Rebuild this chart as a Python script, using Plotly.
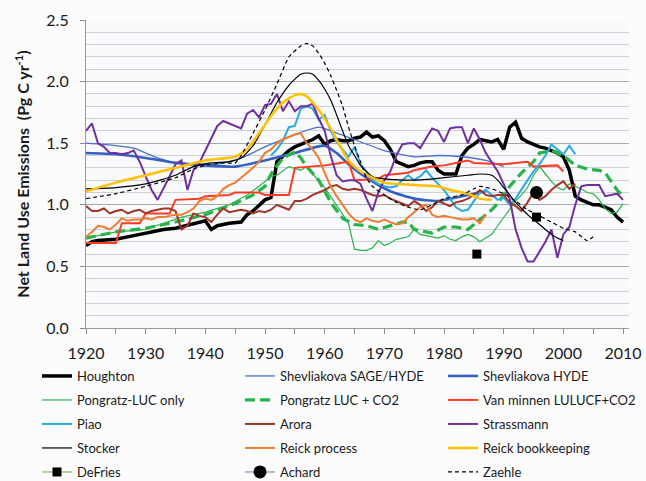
import plotly.graph_objects as go

# ---------------- data ----------------
houghton_years = [1920, 1921, 1922, 1925, 1928, 1930, 1933, 1935, 1938, 1940, 1941, 1942, 1944, 1946, 1947, 1948, 1950, 1951,
                  1952, 1953, 1954, 1955, 1956, 1957, 1958, 1959, 1960, 1961, 1962, 1963, 1964, 1965, 1966, 1967, 1968, 1969,
                  1970, 1971, 1972, 1973, 1974, 1975, 1976, 1977, 1978, 1979, 1980, 1981, 1982, 1983, 1984, 1985, 1986, 1987,
                  1988, 1989, 1990, 1991, 1992, 1993, 1994, 1995, 1996, 1997, 1998, 1999, 2000, 2001, 2002, 2003, 2004, 2005,
                  2006, 2007, 2008, 2009, 2010]
houghton_vals = [0.67, 0.70, 0.71, 0.72, 0.75, 0.77, 0.80, 0.81, 0.85, 0.87, 0.80, 0.83, 0.85, 0.86, 0.92, 0.95, 1.04, 1.06,
                 1.35, 1.40, 1.44, 1.47, 1.49, 1.51, 1.53, 1.56, 1.49, 1.52, 1.53, 1.52, 1.52, 1.54, 1.55, 1.59, 1.55, 1.56,
                 1.52, 1.45, 1.35, 1.33, 1.31, 1.32, 1.34, 1.35, 1.35, 1.28, 1.25, 1.25, 1.25, 1.40, 1.46, 1.49, 1.53, 1.52,
                 1.51, 1.53, 1.45, 1.63, 1.67, 1.54, 1.51, 1.49, 1.47, 1.46, 1.44, 1.42, 1.39, 1.28, 1.07, 1.04, 1.02, 1.00,
                 1.00, 0.98, 0.96, 0.90, 0.86]

shev_sage_years = [1920, 1925, 1928, 1932, 1935, 1942, 1946, 1950, 1955, 1959, 1961, 1965, 1970, 1975, 1979, 1983, 1987, 1990]
shev_sage_vals = [1.50, 1.48, 1.46, 1.38, 1.34, 1.33, 1.38, 1.47, 1.57, 1.63, 1.60, 1.53, 1.44, 1.39, 1.40, 1.39, 1.36, 1.31]

shev_hyde_years = [1920, 1925, 1930, 1935, 1940, 1945, 1950, 1955, 1960, 1962, 1964, 1967, 1971, 1975, 1979, 1983, 1987]
shev_hyde_vals = [1.42, 1.41, 1.38, 1.34, 1.32, 1.31, 1.36, 1.42, 1.48, 1.42, 1.33, 1.22, 1.11, 1.05, 1.03, 1.07, 1.11]

pong_luc_years = [1920, 1922, 1925, 1928, 1930, 1933, 1936, 1940, 1944, 1947, 1949, 1951, 1952, 1954, 1956, 1957, 1958, 1960,
                  1962, 1964, 1965, 1966, 1967, 1968, 1969, 1970, 1971, 1972, 1974, 1975, 1976, 1977, 1978, 1979, 1980, 1981,
                  1982, 1983, 1984, 1985, 1986, 1987, 1988, 1989, 1990, 1991, 1992, 1993, 1994, 1995, 1996, 1997, 1998, 1999,
                  2000, 2001, 2002, 2003, 2004, 2005, 2006, 2007, 2008, 2009, 2010]
pong_luc_vals = [0.73, 0.75, 0.78, 0.79, 0.80, 0.85, 0.90, 0.94, 1.00, 1.08, 1.15, 1.23, 1.24, 1.31, 1.28, 1.31, 1.25, 1.14,
                 1.00, 0.85, 0.64, 0.63, 0.63, 0.65, 0.71, 0.67, 0.69, 0.72, 0.74, 0.80, 0.76, 0.75, 0.74, 0.73, 0.75, 0.72,
                 0.71, 0.74, 0.76, 0.74, 0.70, 0.73, 0.76, 0.83, 0.90, 0.97, 1.03, 1.08, 1.14, 1.24, 1.31, 1.25, 1.19, 1.14,
                 1.12, 1.17, 1.15, 1.13, 1.10, 1.09, 1.04, 0.97, 0.93, 0.94, 1.01]

pong_co2_years = [1920, 1925, 1930, 1935, 1940, 1945, 1948, 1950, 1951, 1952, 1953, 1955, 1956, 1957, 1959, 1961, 1963, 1965,
                  1967, 1969, 1971, 1973, 1974, 1975, 1977, 1978, 1980, 1982, 1984, 1986, 1988, 1989, 1991, 1993, 1995, 1996,
                  1998, 2000, 2002, 2004, 2006, 2007, 2009, 2010]
pong_co2_vals = [0.73, 0.78, 0.81, 0.86, 0.92, 1.01, 1.08, 1.15, 1.25, 1.31, 1.38, 1.43, 1.38, 1.31, 1.20, 1.02, 0.89, 0.84,
                 0.83, 0.80, 0.83, 0.86, 0.86, 0.80, 0.78, 0.77, 0.82, 0.82, 0.80, 0.88, 0.96, 1.01, 1.15, 1.26, 1.35, 1.42,
                 1.44, 1.40, 1.32, 1.29, 1.28, 1.26, 1.12, 1.07]

vanminnen_years = [1920, 1925, 1926, 1929, 1930, 1934, 1935, 1939, 1940, 1944, 1945, 1949, 1950, 1954, 1955, 1960, 1964, 1965,
                   1969, 1970, 1974, 1975, 1978, 1980, 1983, 1984, 1985, 1990, 1994, 1995, 1999, 2000]
vanminnen_vals = [0.69, 0.69, 0.85, 0.85, 0.93, 0.93, 1.04, 1.05, 1.07, 1.08, 1.10, 1.10, 1.08, 1.08, 1.30, 1.32, 1.35, 1.20,
                  1.21, 1.24, 1.26, 1.28, 1.31, 1.32, 1.35, 1.36, 1.34, 1.33, 1.35, 1.31, 1.32, 1.27]

piao_years = list(range(1951, 2003))
piao_vals = [1.40, 1.45, 1.52, 1.63, 1.64, 1.78, 1.80, 1.78, 1.69, 1.73, 1.60, 1.51, 1.45, 1.39, 1.47, 1.33, 1.27, 1.20,
             1.17, 1.15, 1.14, 1.15, 1.20, 1.24, 1.20, 1.23, 1.28, 1.22, 1.17, 1.12, 1.05, 0.98, 0.95, 0.96, 1.03, 1.10,
             1.12, 1.08, 1.04, 1.06, 1.00, 1.05, 1.13, 1.20, 1.27, 1.33, 1.40, 1.49, 1.45, 1.41, 1.48, 1.41]

arora_years = list(range(1920, 2003))
arora_vals = [0.99, 0.95, 0.95, 0.97, 0.93, 0.95, 0.96, 0.93, 0.95, 0.96, 0.93, 0.95, 0.96, 0.97, 0.97, 0.95, 0.80, 0.83,
              0.93, 0.91, 0.90, 0.86, 0.92, 0.97, 0.94, 0.95, 0.96, 0.95, 0.93, 0.95, 0.94, 0.96, 1.00, 0.98, 0.96, 1.03,
              1.03, 1.05, 1.08, 1.10, 1.12, 1.15, 1.16, 1.13, 1.12, 1.13, 1.12, 1.10, 1.08, 1.07, 1.08, 1.05, 1.03, 1.01,
              0.99, 1.03, 1.00, 0.95, 0.98, 1.03, 1.01, 0.99, 1.02, 1.03, 1.05, 1.08, 1.12, 1.08, 1.07, 1.08, 1.08, 1.02,
              0.99, 0.95, 1.02, 1.10, 1.04, 1.07, 1.12, 1.16, 1.19, 1.13, 1.17]

strassmann_years = list(range(1920, 2011))
strassmann_vals = [1.60, 1.66, 1.50, 1.47, 1.42, 1.42, 1.41, 1.42, 1.44, 1.35, 1.23, 1.12, 1.04, 1.13, 1.23, 1.33, 1.36, 1.12,
                   1.28, 1.34, 1.44, 1.55, 1.64, 1.68, 1.66, 1.64, 1.62, 1.74, 1.77, 1.71, 1.81, 1.82, 1.90, 1.76, 1.84, 1.76,
                   1.80, 1.80, 1.82, 1.70, 1.60, 1.40, 1.24, 1.19, 1.20, 1.20, 1.17, 1.05, 0.95, 1.10, 1.20, 1.27, 1.40, 1.49,
                   1.50, 1.50, 1.46, 1.54, 1.62, 1.60, 1.51, 1.62, 1.63, 1.63, 1.50, 1.62, 1.53, 1.42, 1.34, 1.27, 1.17, 1.05,
                   0.80, 0.65, 0.54, 0.54, 0.62, 0.70, 0.80, 0.57, 0.76, 0.82, 1.00, 1.15, 1.16, 1.16, 1.16, 1.07, 1.08, 1.09,
                   1.04]

stocker_years = [1920, 1925, 1930, 1935, 1938, 1941, 1944, 1946, 1948, 1950, 1952, 1954, 1955, 1956, 1957, 1958, 1959, 1960,
                 1961, 1962, 1963, 1964, 1965, 1966, 1967, 1968, 1970, 1975, 1980, 1984, 1986, 1988, 1989, 1990, 1991, 1992,
                 1993, 1994, 1995, 1996, 1997, 1998, 1999, 2000]
stocker_vals = [1.13, 1.14, 1.17, 1.24, 1.31, 1.34, 1.35, 1.38, 1.48, 1.65, 1.83, 1.97, 2.02, 2.06, 2.07, 2.06, 2.01, 1.94,
                1.85, 1.73, 1.60, 1.48, 1.40, 1.32, 1.27, 1.23, 1.21, 1.20, 1.22, 1.24, 1.25, 1.24, 1.20, 1.14, 1.08, 1.02,
                0.97, 0.92, 0.88, 0.84, 0.80, 0.76, 0.73, 0.71]

reick_proc_years = list(range(1920, 1988))
reick_proc_vals = [0.74, 0.78, 0.83, 0.82, 0.80, 0.84, 0.89, 0.87, 0.88, 0.88, 0.89, 0.88, 0.90, 0.90, 0.91, 0.92, 0.92, 0.94,
                   0.97, 1.03, 1.05, 1.04, 1.07, 1.13, 1.16, 1.18, 1.22, 1.26, 1.30, 1.35, 1.42, 1.45, 1.50, 1.53, 1.55, 1.57,
                   1.58, 1.50, 1.45, 1.38, 1.26, 1.15, 1.07, 1.00, 0.93, 0.88, 0.86, 0.89, 0.87, 0.86, 0.88, 0.86, 0.84, 0.85,
                   0.90, 0.94, 0.98, 1.00, 0.92, 0.90, 0.91, 0.90, 0.89, 0.88, 0.88, 0.89, 0.85, 0.92]

reick_book_years = [1920, 1925, 1930, 1935, 1940, 1945, 1947, 1949, 1951, 1953, 1955, 1956, 1957, 1958, 1959, 1960, 1961, 1962,
                    1963, 1964, 1965, 1966, 1968, 1970, 1975, 1979, 1981, 1984, 1986, 1988]
reick_book_vals = [1.11, 1.18, 1.24, 1.30, 1.36, 1.39, 1.45, 1.58, 1.72, 1.83, 1.89, 1.90, 1.88, 1.83, 1.77, 1.70, 1.62, 1.53,
                   1.44, 1.36, 1.31, 1.27, 1.22, 1.18, 1.16, 1.15, 1.12, 1.09, 1.05, 1.04]

defries_years = [1985.5, 1990, 1995.5]
defries_vals = [0.60, None, 0.90]

achard_years = [1995.5]
achard_vals = [1.10]

zaehle_years = [1920, 1925, 1930, 1935, 1938, 1940, 1943, 1945, 1946, 1948, 1950, 1952, 1954, 1956, 1957, 1958, 1959, 1960,
                1961, 1962, 1963, 1964, 1965, 1966, 1967, 1968, 1970, 1972, 1974, 1976, 1978, 1980, 1983, 1985, 1986, 1988,
                1990, 1992, 1994, 1996, 1998, 2000, 2002, 2004, 2005]
zaehle_vals = [1.05, 1.09, 1.15, 1.22, 1.29, 1.32, 1.34, 1.34, 1.40, 1.58, 1.77, 1.98, 2.20, 2.29, 2.31, 2.29, 2.23, 2.15,
               2.05, 1.93, 1.80, 1.63, 1.48, 1.35, 1.22, 1.15, 1.08, 1.02, 0.98, 0.96, 1.00, 1.05, 1.08, 1.13, 1.15, 1.13,
               1.09, 1.03, 0.96, 0.91, 0.86, 0.81, 0.78, 0.71, 0.74]

x_tick_vals = [1920, 1930, 1940, 1950, 1960, 1970, 1980, 1990, 2000, 2010]
y_tick_vals = [0.0, 0.5, 1.0, 1.5, 2.0, 2.5]

# ---------------- figure ----------------
W, H = 646, 481
L, R, T, B = 86, 17, 20, 153
PW, PH = W - L - R, H - T - B

series = [
    # name, x, y, color, width, dash, shape, legend row
    ("Houghton", houghton_years, houghton_vals, "#000000", 3.5, "solid", "linear", 1),
    ("Shevliakova SAGE/HYDE", shev_sage_years, shev_sage_vals, "#4a6fcc", 1.3, "solid", "spline", 1),
    ("Shevliakova HYDE", shev_hyde_years, shev_hyde_vals, "#3560c2", 2.6, "solid", "spline", 1),
    ("Pongratz-LUC only", pong_luc_years, pong_luc_vals, "#2bb34b", 1.2, "solid", "linear", 2),
    ("Pongratz LUC + CO2", pong_co2_years, pong_co2_vals, "#27b24a", 3.2, "10px,5px", "linear", 2),
    ("Van minnen LULUCF+CO2", vanminnen_years, vanminnen_vals, "#ff3b26", 2.0, "solid", "linear", 2),
    ("Piao", piao_years, piao_vals, "#2aaae2", 2.0, "solid", "linear", 3),
    ("Arora", arora_years, arora_vals, "#a3342a", 2.0, "solid", "linear", 3),
    ("Strassmann", strassmann_years, strassmann_vals, "#7030a0", 2.0, "solid", "linear", 3),
    ("Stocker", stocker_years, stocker_vals, "#000000", 1.2, "solid", "spline", 4),
    ("Reick process", reick_proc_years, reick_proc_vals, "#f07c2f", 2.0, "solid", "linear", 4),
    ("Reick bookkeeping", reick_book_years, reick_book_vals, "#ffc000", 2.5, "solid", "spline", 4),
]

fig = go.Figure()
legend_names = {1: "legend", 2: "legend2", 3: "legend3", 4: "legend4", 5: "legend5"}

for name, xs, ys, col, wd, dash, shape, row in series:
    fig.add_trace(go.Scatter(
        x=xs, y=ys, mode="lines", name=name,
        line=dict(color=col, width=wd, dash=dash, shape=shape, smoothing=0.6),
        legend=legend_names[row],
    ))

fig.add_trace(go.Scatter(
    x=defries_years, y=defries_vals, mode="lines+markers", name="DeFries",
    line=dict(color="#8fcf7a", width=1.5), connectgaps=False,
    marker=dict(symbol="square", size=9, color="#000000"),
    legend="legend5",
))
fig.add_trace(go.Scatter(
    x=achard_years, y=achard_vals, mode="lines+markers", name="Achard",
    line=dict(color="#a9a3d8", width=1.5),
    marker=dict(symbol="circle", size=13, color="#000000"),
    legend="legend5",
))
fig.add_trace(go.Scatter(
    x=zaehle_years, y=zaehle_vals, mode="lines", name="Zaehle",
    line=dict(color="#000000", width=1.2, dash="4px,3px", shape="spline", smoothing=0.5),
    legend="legend5",
))

font_family = "Lato, 'Open Sans', sans-serif"
row_y = {1: 376, 2: 400, 3: 424, 4: 448, 5: 472}
legend_common = dict(
    orientation="h", xref="paper", yref="paper",
    x=(37 - L) / PW, xanchor="left", yanchor="middle",
    entrywidth=158, entrywidthmode="pixels",
    font=dict(family=font_family, size=13, color="#1a1a1a"),
    bgcolor="rgba(0,0,0,0)", borderwidth=0, itemwidth=30,
)
layout_legends = {}
for r, nm in legend_names.items():
    d = dict(legend_common)
    d["y"] = (H - B - row_y[r]) / PH
    layout_legends[nm] = d

fig.update_layout(
    width=W, height=H,
    margin=dict(l=L, r=R, t=T, b=B, autoexpand=False),
    paper_bgcolor="#fcfcfd",
    plot_bgcolor="#f9fafc",
    showlegend=True,
    font=dict(family=font_family, color="#1a1a1a"),
    **layout_legends,
)

fig.update_xaxes(
    range=[1920, 2011], tickvals=x_tick_vals, ticktext=[str(v) for v in x_tick_vals],
    ticks="outside", ticklen=5, tickcolor="#8c8c8c", tickwidth=1,
    minor=dict(dtick=5, tick0=1920, ticks="outside", ticklen=5, tickcolor="#8c8c8c", showgrid=False),
    showline=True, linecolor="#9a9a9a", linewidth=1.2,
    showgrid=False, zeroline=False, automargin=False,
    tickfont=dict(family=font_family, size=16, color="#1a1a1a"),
    ticklabelstandoff=6,
)
fig.update_yaxes(
    range=[0, 2.5], tickvals=y_tick_vals, ticktext=["%.1f" % v for v in y_tick_vals],
    ticks="outside", ticklen=5, tickcolor="#8c8c8c",
    showline=True, linecolor="#9a9a9a", linewidth=1.2,
    showgrid=True, gridcolor="#a8a8a8", gridwidth=1.2,
    minor=dict(dtick=0.1, tick0=0, showgrid=True, gridcolor="#cfcfd5", gridwidth=1, ticks=""),
    zeroline=False, automargin=False,
    tickfont=dict(family=font_family, size=16, color="#1a1a1a"),
    ticklabelstandoff=8,
    title=dict(text="<b>Net Land Use Emissions  (Pg C yr<sup>-1</sup>)</b>",
               font=dict(family=font_family, size=16, color="#1a1a1a"), standoff=12),
)

fig.write_html(
    "out.html",
    config={"displayModeBar": False},
    post_script="document.body.style.margin='0px';document.body.style.padding='0px';"
                "document.body.style.overflow='hidden';",
)
